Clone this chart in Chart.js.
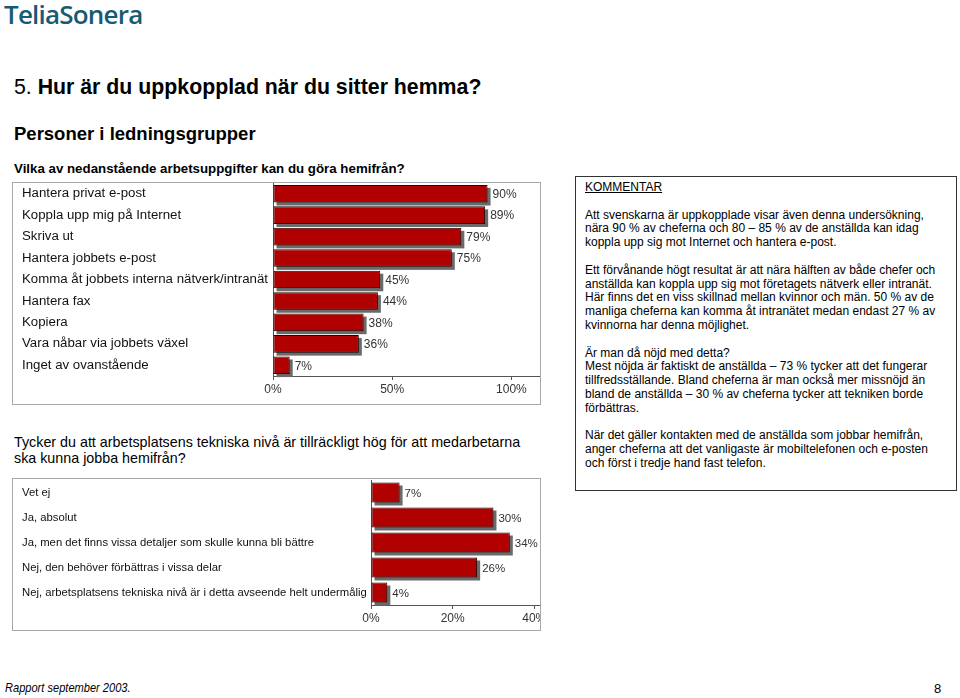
<!DOCTYPE html>
<html>
<head>
<meta charset="utf-8">
<script src="https://cdn.jsdelivr.net/npm/chart.js"></script>
<style>
  html, body { margin: 0; padding: 0; background: #fff; }
  body { width: 960px; height: 698px; position: relative; overflow: hidden;
         font-family: "Liberation Sans", Arial, sans-serif; color: #000; }
  .abs { position: absolute; white-space: nowrap; }
  .logo { left: 4px; top: -4px; font-family: "Open Sans", sans-serif; font-size: 26px; font-weight: 600;
          color: #175a74; letter-spacing: -0.8px; }
  .title { left: 14px; top: 75px; font-size: 21.3px; font-weight: bold; }
  .title span { font-weight: normal; }
  .sub { left: 14px; top: 123px; font-size: 18.5px; font-weight: bold; }
  .q1 { left: 14px; top: 161px; font-size: 13.3px; font-weight: bold; }
  .q2 { left: 14px; top: 434px; font-size: 14.3px; line-height: 16px; }
  .chartbox { position: absolute; border: 1px solid #a8a8a8; }
  .chartbox canvas { display: block; }
  .comment { left: 575px; top: 176px; width: 380px; height: 313px; border: 1px solid #333;
             box-sizing: content-box; }
  .comment .txt { position: absolute; left: 9px; top: 4px; font-size: 12px; line-height: 13.8px; }
  .comment u { text-decoration: underline; }
  .foot { left: 5px; top: 680px; font-size: 13.5px; font-style: italic;
          transform: scaleX(0.82); transform-origin: 0 0; }
  .page { left: 934px; top: 681px; font-size: 13px; }
</style>
</head>
<body>
<div class="abs logo">TeliaSonera</div>
<div class="abs title"><span>5.</span> Hur är du uppkopplad när du sitter hemma?</div>
<div class="abs sub">Personer i ledningsgrupper</div>
<div class="abs q1">Vilka av nedanstående arbetsuppgifter kan du göra hemifrån?</div>

<div class="chartbox" style="left:12px; top:182px; width:527px; height:221px;">
  <canvas id="topChart" width="527" height="221"></canvas>
</div>

<div class="abs q2">Tycker du att arbetsplatsens tekniska nivå är tillräckligt hög för att medarbetarna<br>ska kunna jobba hemifrån?</div>

<div class="chartbox" style="left:12px; top:478px; width:527px; height:151px;">
  <canvas id="bottomChart" width="527" height="151"></canvas>
</div>

<div class="abs comment">
  <div class="txt"><u>KOMMENTAR</u><br>
<br>
Att svenskarna är uppkopplade visar även denna undersökning,<br>
nära 90 % av cheferna och 80 – 85 % av de anställda kan idag<br>
koppla upp sig mot Internet och hantera e-post.<br>
<br>
Ett förvånande högt resultat är att nära hälften av både chefer och<br>
anställda kan koppla upp sig mot företagets nätverk eller intranät.<br>
Här finns det en viss skillnad mellan kvinnor och män. 50 % av de<br>
manliga cheferna kan komma åt intranätet medan endast 27 % av<br>
kvinnorna har denna möjlighet.<br>
<br>
Är man då nöjd med detta?<br>
Mest nöjda är faktiskt de anställda – 73 % tycker att det fungerar<br>
tillfredsställande. Bland cheferna är man också mer missnöjd än<br>
bland de anställda – 30 % av cheferna tycker att tekniken borde<br>
förbättras.<br>
<br>
När det gäller kontakten med de anställda som jobbar hemifrån,<br>
anger cheferna att det vanligaste är mobiltelefonen och e-posten<br>
och först i tredje hand fast telefon.</div>
</div>

<div class="abs foot">Rapport september 2003.</div>
<div class="abs page">8</div>

<script>
// --- data ---
const topLabels = [
  'Hantera privat e-post',
  'Koppla upp mig på Internet',
  'Skriva ut',
  'Hantera jobbets e-post',
  'Komma åt jobbets interna nätverk/intranät',
  'Hantera fax',
  'Kopiera',
  'Vara nåbar via jobbets växel',
  'Inget av ovanstående'
];
const topValues = [90, 89, 79, 75, 45, 44, 38, 36, 7];
const topTicks = [0, 50, 100];

const bottomLabels = [
  'Vet ej',
  'Ja, absolut',
  'Ja, men det finns vissa detaljer som skulle kunna bli bättre',
  'Nej, den behöver förbättras i vissa delar',
  'Nej, arbetsplatsens tekniska nivå är i detta avseende helt undermålig'
];
const bottomValues = [7, 30, 34, 26, 4];
const bottomTicks = [0, 20, 40];

const BAR_RED = '#b00000';
const AXIS_GREY = '#555';

// grey drop shadow behind each bar (the bar element clips its own canvas shadow)
const shadowPlugin = {
  id: 'barShadow',
  beforeDatasetsDraw(chart) {
    const ctx = chart.ctx;
    ctx.save();
    ctx.fillStyle = '#6a6a6a';
    chart.getDatasetMeta(0).data.forEach(bar => {
      const p = bar.getProps(['x', 'y', 'base', 'height'], true);
      ctx.fillRect(p.base + 3, p.y - p.height / 2 + 3, p.x - p.base, p.height);
    });
    ctx.restore();
  }
};

// "90%" etc. right of each bar
const valueLabels = {
  id: 'valueLabels',
  afterDraw(chart, args, opts) {
    const ctx = chart.ctx;
    const meta = chart.getDatasetMeta(0);
    const vals = chart.data.datasets[0].data;
    ctx.save();
    ctx.font = opts.font;
    ctx.fillStyle = '#333';
    ctx.textAlign = 'left';
    ctx.textBaseline = 'middle';
    meta.data.forEach((bar, i) => {
      ctx.fillText(vals[i] + '%', bar.x + 5, bar.y + 1);
    });
    ctx.restore();
  }
};

function makeChart(id, labels, values, ticks, cfg) {
  return new Chart(document.getElementById(id), {
    type: 'bar',
    data: {
      labels: labels,
      datasets: [{
        data: values,
        backgroundColor: BAR_RED,
        borderColor: '#1e0000',
        borderWidth: 1,
        borderSkipped: false,
        categoryPercentage: 1,
        barPercentage: cfg.barPct
      }]
    },
    options: {
      indexAxis: 'y',
      responsive: false,
      animation: false,
      layout: { padding: { left: 9, right: 0, top: cfg.top, bottom: 0 } },
      plugins: {
        legend: { display: false },
        tooltip: { enabled: false },
        valueLabels: { font: cfg.valueFont }
      },
      scales: {
        x: {
          min: 0,
          max: cfg.max,
          afterBuildTicks: s => { s.ticks = ticks.map(v => ({ value: v })); },
          afterFit: s => { s.height = cfg.xHeight; s.paddingLeft = 0; s.paddingRight = 0; },
          grid: { display: true, drawOnChartArea: false, drawTicks: true, tickLength: 4, color: AXIS_GREY },
          border: { display: true, color: AXIS_GREY, width: 1 },
          ticks: {
            padding: 2,
            color: '#333',
            font: { family: '"Liberation Sans", Arial, sans-serif', size: 12 },
            callback: v => v + '%'
          }
        },
        y: {
          afterFit: s => { s.width = cfg.yWidth; s.paddingTop = 0; s.paddingBottom = 0; },
          grid: { display: true, drawOnChartArea: false, drawTicks: false },
          border: { display: true, color: AXIS_GREY, width: 1 },
          ticks: {
            crossAlign: 'far',
            padding: 0,
            color: '#111',
            font: { family: '"Liberation Sans", Arial, sans-serif', size: cfg.labelSize }
          }
        }
      }
    },
    plugins: [shadowPlugin, valueLabels]
  });
}

makeChart('topChart', topLabels, topValues, topTicks, {
  max: 112, yWidth: 251, xHeight: 28, top: 0, barPct: 0.82,
  labelSize: 13.25, valueFont: '12px "Liberation Sans", Arial, sans-serif'
});

makeChart('bottomChart', bottomLabels, bottomValues, bottomTicks, {
  max: 41.4, yWidth: 349, xHeight: 25, top: 1, barPct: 0.8,
  labelSize: 11.3, valueFont: '11.5px "Liberation Sans", Arial, sans-serif'
});
</script>
</body>
</html>
